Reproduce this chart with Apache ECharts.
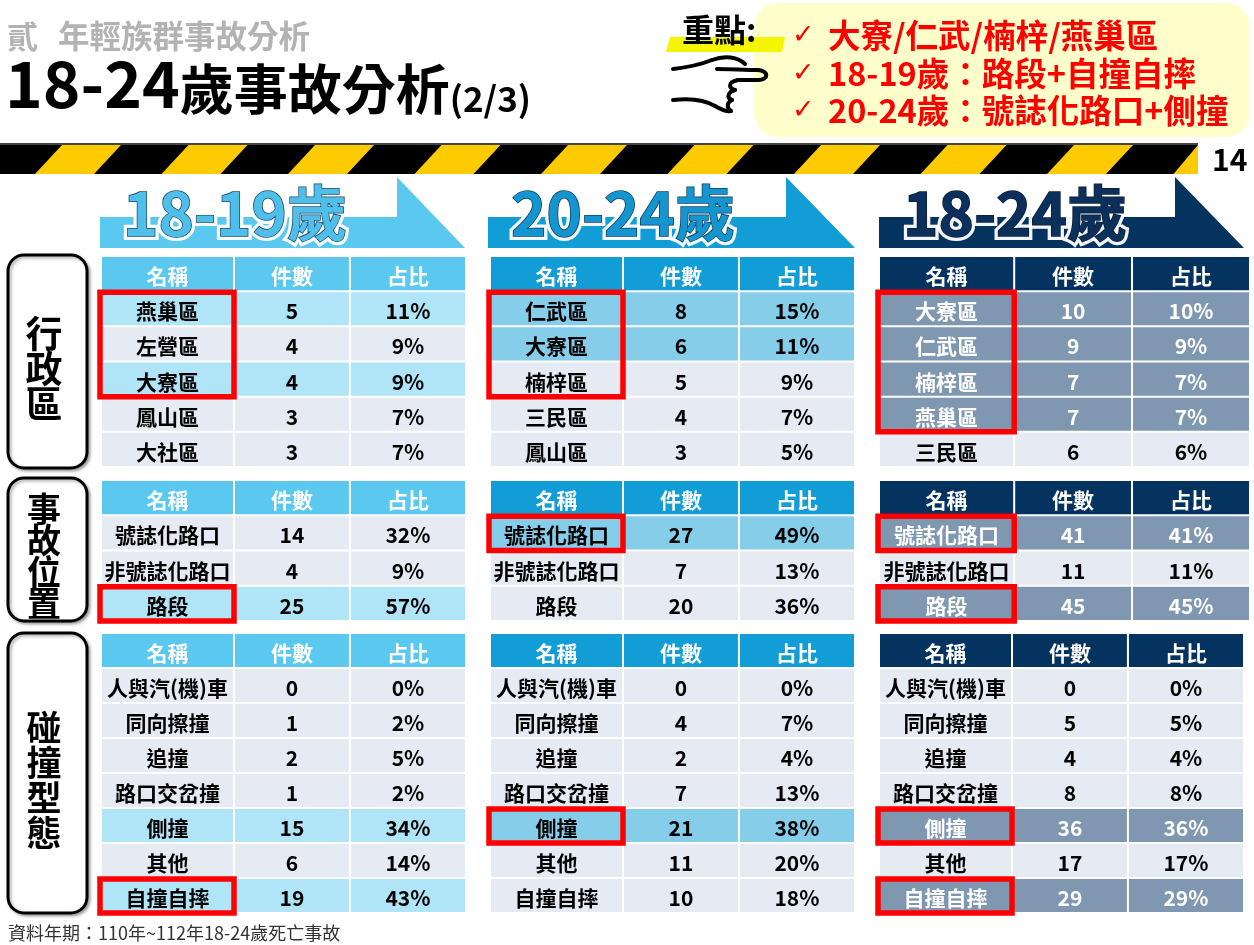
<!DOCTYPE html>
<html>
<head>
<meta charset="utf-8">
<script src="https://cdn.jsdelivr.net/npm/echarts@6/dist/echarts.min.js"></script>
<style>
html,body{margin:0;padding:0;background:#fff}
#main{width:1254px;height:945px}
</style>
</head>
<body>
<div id="main"></div>
<script>
var FONT = '"Noto Sans CJK TC","Noto Sans CJK SC",sans-serif';

var headerCols = ['名稱', '件數', '占比'];
var ageGroups = ['18-19歲', '20-24歲', '18-24歲'];
var sectionLabels = ['行政區', '事故位置', '碰撞型態'];

// 行政區
var distNames1819 = ['燕巢區', '左營區', '大寮區', '鳳山區', '大社區'];
var distCount1819 = [5, 4, 4, 3, 3];
var distPct1819 = [11, 9, 9, 7, 7];
var distNames2024 = ['仁武區', '大寮區', '楠梓區', '三民區', '鳳山區'];
var distCount2024 = [8, 6, 5, 4, 3];
var distPct2024 = [15, 11, 9, 7, 5];
var distNames1824 = ['大寮區', '仁武區', '楠梓區', '燕巢區', '三民區'];
var distCount1824 = [10, 9, 7, 7, 6];
var distPct1824 = [10, 9, 7, 7, 6];

// 事故位置
var locNames = ['號誌化路口', '非號誌化路口', '路段'];
var locCount1819 = [14, 4, 25];
var locPct1819 = [32, 9, 57];
var locCount2024 = [27, 7, 20];
var locPct2024 = [49, 13, 36];
var locCount1824 = [41, 11, 45];
var locPct1824 = [41, 11, 45];

// 碰撞型態
var collNames = ['人與汽(機)車', '同向擦撞', '追撞', '路口交岔撞', '側撞', '其他', '自撞自摔'];
var collCount1819 = [0, 1, 2, 1, 15, 6, 19];
var collPct1819 = [0, 2, 5, 2, 34, 14, 43];
var collCount2024 = [0, 4, 2, 7, 21, 11, 10];
var collPct2024 = [0, 7, 4, 13, 38, 20, 18];
var collCount1824 = [0, 5, 4, 8, 36, 17, 29];
var collPct1824 = [0, 5, 4, 8, 36, 17, 29];

// 底色強調的列 / 紅框標示的列
var hl1819 = [[0, 2], [2], [4, 6]];
var hl2024 = [[0, 1], [0], [4]];
var hl1824 = [[0, 1, 2, 3], [0, 2], [4, 6]];
var box1819 = [[[0, 2]], [[2, 2]], [[6, 6]]];
var box2024 = [[[0, 2]], [[0, 0]], [[4, 4]]];
var box1824 = [[[0, 3]], [[0, 0], [2, 2]], [[4, 4], [6, 6]]];

var keyPoints = ['大寮/仁武/楠梓/燕巢區', '18-19歲：路段+自撞自摔', '20-24歲：號誌化路口+側撞'];

var tables = [
  [
    {names: distNames1819, counts: distCount1819, pcts: distPct1819},
    {names: locNames, counts: locCount1819, pcts: locPct1819},
    {names: collNames, counts: collCount1819, pcts: collPct1819}
  ],
  [
    {names: distNames2024, counts: distCount2024, pcts: distPct2024},
    {names: locNames, counts: locCount2024, pcts: locPct2024},
    {names: collNames, counts: collCount2024, pcts: collPct2024}
  ],
  [
    {names: distNames1824, counts: distCount1824, pcts: distPct1824},
    {names: locNames, counts: locCount1824, pcts: locPct1824},
    {names: collNames, counts: collCount1824, pcts: collPct1824}
  ]
];
var hls = [hl1819, hl2024, hl1824];
var boxes = [box1819, box2024, box1824];

var palettes = [
  {head: '#5BC8F0', hl: '#B0E4F7', hlText: '#000', band: '#5BC8F0', title: '#4FBFEA', edge: '#1d4a6c'},
  {head: '#139DD6', hl: '#86CDEA', hlText: '#000', band: '#139DD6', title: '#1495D0', edge: '#0c3a5a'},
  {head: '#05335F', hl: '#7F97B1', hlText: '#fff', band: '#05335F', title: '#0A305B', edge: '#071c36'}
];
var normalFill = '#E6EBF3';

var gridLefts = [101, 490, 879];
var gridWidths = [[365, 365, 365], [365, 365, 365], [371, 371, 365]];
var secTops = [256, 480, 633];
var secHeights = [211, 141, 280];
var colEdges = [0, 0.3644, 0.682, 1];

var chart = echarts.init(document.getElementById('main'));

var grids = [], xAxes = [], yAxes = [], series = [];

function cellRenderer(sec, hlRows, pal) {
  return function (params, api) {
    var c = api.value(0), r = api.value(1);
    var p = api.coord([0, r]);
    var h = api.size([0, 1])[1];
    var x0 = api.coord([colEdges[c], r])[0];
    var x1 = api.coord([colEdges[c + 1], r])[0];
    var y0 = p[1] - h / 2;
    var fill, color, txt, shadow = null;
    if (r === 0) {
      fill = pal.head; color = '#fff'; txt = headerCols[c];
      shadow = 'rgba(0,0,0,0.45)';
    } else {
      var i = r - 1;
      var isHl = hlRows.indexOf(i) >= 0;
      fill = isHl ? pal.hl : normalFill;
      color = isHl ? pal.hlText : '#000';
      if (color === '#fff') shadow = 'rgba(0,0,0,0.35)';
      txt = c === 0 ? sec.names[i] : (c === 1 ? String(sec.counts[i]) : sec.pcts[i] + '%');
    }
    var ts = {
      text: txt, x: (x0 + x1) / 2, y: p[1] + 2.5,
      align: 'center', verticalAlign: 'middle',
      textAlign: 'center', textVerticalAlign: 'middle',
      font: 'bold 21px ' + FONT, fill: color
    };
    if (shadow) {
      ts.shadowColor = shadow; ts.shadowOffsetX = 1; ts.shadowOffsetY = 1; ts.shadowBlur = 1;
    }
    return {
      type: 'group',
      children: [
        {type: 'rect', shape: {x: x0 + 1, y: y0 + 1, width: x1 - x0 - 2, height: h - 2}, style: {fill: fill}},
        {type: 'text', style: ts}
      ]
    };
  };
}

function boxRenderer(params, api) {
  var r0 = api.value(1), r1 = api.value(2);
  var h = api.size([0, 1])[1];
  var top = api.coord([0, r0])[1] - h / 2;
  var bottom = api.coord([0, r1])[1] + h / 2;
  var x0 = api.coord([0, r0])[0];
  var x1 = api.coord([colEdges[1], r0])[0];
  return {
    type: 'rect',
    shape: {x: x0 - 1, y: top + 1, width: x1 - x0 + 1, height: bottom - top - 1},
    style: {fill: 'none', stroke: '#FF0000', lineWidth: 5.5}
  };
}

for (var g = 0; g < 3; g++) {
  for (var s = 0; s < 3; s++) {
    var idx = grids.length;
    var sec = tables[g][s];
    grids.push({left: gridLefts[g], top: secTops[s], width: gridWidths[g][s], height: secHeights[s], containLabel: false});
    xAxes.push({type: 'value', gridIndex: idx, min: 0, max: 1, show: false});
    yAxes.push({type: 'category', gridIndex: idx, inverse: true, show: false, data: ['名稱'].concat(sec.names)});
    var cells = [];
    for (var r = 0; r <= sec.names.length; r++) {
      for (var c = 0; c < 3; c++) cells.push([c, r]);
    }
    series.push({
      type: 'custom', xAxisIndex: idx, yAxisIndex: idx, clip: false, z: 2,
      renderItem: cellRenderer(sec, hls[g][s], palettes[g]),
      data: cells
    });
    series.push({
      type: 'custom', xAxisIndex: idx, yAxisIndex: idx, clip: false, z: 5,
      encode: {x: 0, y: 1},
      renderItem: boxRenderer,
      data: boxes[g][s].map(function (b) { return [0, b[0] + 1, b[1] + 1]; })
    });
  }
}

var graphics = [];

// 標題
graphics.push({type: 'text', style: {text: '貳', x: 7, y: 36, font: 'bold 31px ' + FONT, fill: '#B3B3B3', textVerticalAlign: 'middle', verticalAlign: 'middle'}});
graphics.push({type: 'text', style: {text: '年輕族群事故分析', x: 58, y: 36, font: 'bold 31.5px ' + FONT, fill: '#B3B3B3', textVerticalAlign: 'middle', verticalAlign: 'middle'}});
graphics.push({type: 'text', style: {
  text: '{n|18-24}{c|歲事故分析}{s|(2/3)}', x: 5, y: 116,
  textVerticalAlign: 'bottom', verticalAlign: 'bottom',
  rich: {
    n: {font: 'bold 64px ' + FONT, fill: '#000', verticalAlign: 'bottom', lineHeight: 64},
    c: {font: 'bold 54px ' + FONT, fill: '#000', verticalAlign: 'bottom', lineHeight: 60},
    s: {font: 'bold 35px ' + FONT, fill: '#000', verticalAlign: 'bottom', lineHeight: 43}
  }
}});

// 重點框
graphics.push({type: 'rect', shape: {x: 754, y: 3, width: 496, height: 134, r: 24}, style: {fill: '#FFFFCC'}});
graphics.push({type: 'polygon', shape: {points: [[670, 37], [785, 37], [782, 52], [666, 52]]}, style: {fill: '#F5F500'}});
graphics.push({type: 'text', style: {text: '重點:', x: 682, y: 30, font: 'bold 32px ' + FONT, fill: '#000', textVerticalAlign: 'middle', verticalAlign: 'middle'}});
// 手指圖示（三次貝茲曲線段：起點、控制點1、控制點2、終點）
var handSegs = [
  [673, 69, 690, 67, 702, 64, 712, 60],
  [712, 60, 725, 55, 738, 57, 745, 64],
  [717, 69, 730, 69, 745, 70, 758, 70],
  [758, 70, 769, 71, 769, 80, 758, 80],
  [758, 80, 750, 80, 744, 80, 738, 80],
  [738, 80, 728, 82, 728, 88, 735, 90],
  [735, 90, 728, 92, 726, 98, 732, 100],
  [732, 100, 726, 103, 727, 108, 731, 111],
  [673, 100, 690, 98, 705, 100, 715, 106],
  [715, 106, 722, 110, 728, 112, 731, 111]
];
handSegs.forEach(function (h) {
  graphics.push({type: 'bezierCurve',
    shape: {x1: h[0], y1: h[1], cpx1: h[2], cpy1: h[3], cpx2: h[4], cpy2: h[5], x2: h[6], y2: h[7]},
    style: {stroke: '#000', lineWidth: 4, lineCap: 'round'}});
});
keyPoints.forEach(function (t, i) {
  var y = 36 + i * 37.5;
  graphics.push({type: 'text', style: {text: '✓', x: 792, y: y, font: '27px "DejaVu Sans",' + FONT, fill: '#FF0000', textVerticalAlign: 'middle', verticalAlign: 'middle'}});
  graphics.push({type: 'text', style: {text: t, x: 828, y: y, font: 'bold 32.5px ' + FONT, fill: '#FF0000', textVerticalAlign: 'middle', verticalAlign: 'middle'}});
});

// 警示條
graphics.push({type: 'rect', shape: {x: 0, y: 143, width: 1198, height: 31}, style: {fill: '#000'}});
graphics.push({type: 'rect', shape: {x: 0, y: 143, width: 1198, height: 2}, style: {fill: '#444'}});
for (var k = 0; k < 10; k++) {
  var bl = 35 + k * 126.5;
  var pts = [[bl, 174], [bl + 27, 145], [bl + 86, 145], [bl + 59, 174]].map(function (pt) {
    return [Math.min(pt[0], 1198), pt[1]];
  });
  graphics.push({type: 'polygon', shape: {points: pts}, style: {fill: '#FECB00'}});
}
graphics.push({type: 'text', style: {text: '14', x: 1212, y: 160, font: 'bold 30px ' + FONT, fill: '#000', textVerticalAlign: 'middle', verticalAlign: 'middle'}});

// 年齡層箭頭標題
var bandGeo = [[100, 397, 465], [488, 786, 855], [879, 1175, 1244]];
var bandText = [235, 623, 1015];
bandGeo.forEach(function (b, i) {
  graphics.push({type: 'polygon', shape: {points: [[b[0], 217], [b[1], 217], [b[1], 177], [b[2], 248], [b[0], 248]]}, style: {fill: palettes[i].band}});
  graphics.push({type: 'text', style: {
    text: ageGroups[i], x: bandText[i], y: 213, font: 'bold 60px ' + FONT,
    fill: '#fff', stroke: 'rgba(255,255,255,0.95)', lineWidth: 8, shadowColor: '#fff', shadowBlur: 8,
    textAlign: 'center', align: 'center', textVerticalAlign: 'middle', verticalAlign: 'middle'
  }});
  graphics.push({type: 'text', style: {
    text: ageGroups[i], x: bandText[i], y: 213, font: 'bold 60px ' + FONT,
    fill: palettes[i].title, stroke: palettes[i].edge, lineWidth: 1.5,
    textAlign: 'center', align: 'center', textVerticalAlign: 'middle', verticalAlign: 'middle'
  }});
});

// 左側分類框
var labelBoxes = [[255, 213, 369, 37, 35], [478, 143, 556, 34, 31.5], [633, 280, 780, 35, 35]];
labelBoxes.forEach(function (lb, i) {
  graphics.push({type: 'rect', shape: {x: 8, y: lb[0], width: 79, height: lb[1], r: 16},
    style: {fill: '#fff', stroke: '#000', lineWidth: 3, shadowColor: 'rgba(0,0,0,0.3)', shadowBlur: 3, shadowOffsetX: 2, shadowOffsetY: 2}});
  graphics.push({type: 'text', style: {
    text: sectionLabels[i].split('').join('\n'), x: 44, y: lb[2],
    font: 'bold ' + lb[3] + 'px ' + FONT, lineHeight: lb[4], fill: '#000',
    textAlign: 'center', align: 'center', textVerticalAlign: 'middle', verticalAlign: 'middle'
  }});
});

// 資料來源
graphics.push({type: 'text', style: {text: '資料年期：110年~112年18-24歲死亡事故', x: 8, y: 933, font: '18px ' + FONT, fill: '#333', textVerticalAlign: 'middle', verticalAlign: 'middle'}});

chart.setOption({
  backgroundColor: '#fff',
  animation: false,
  grid: grids,
  xAxis: xAxes,
  yAxis: yAxes,
  series: series,
  graphic: {elements: graphics}
});
</script>
</body>
</html>
